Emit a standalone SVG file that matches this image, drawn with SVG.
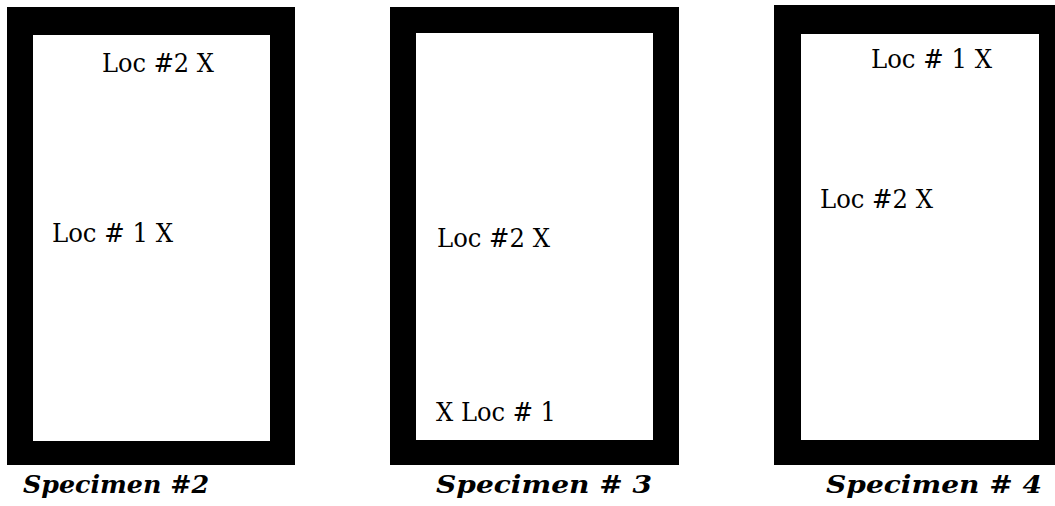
<svg xmlns="http://www.w3.org/2000/svg" width="1055" height="506" viewBox="0 0 1055 506">
<style>
.frame{fill:#000;fill-rule:evenodd}
.loc{font-family:"DejaVu Serif","Liberation Serif",serif;font-size:26px;fill:#000}
.cap{font-family:"DejaVu Serif","Liberation Serif",serif;font-size:25px;font-weight:bold;font-style:italic;fill:#000}
</style>
<rect width="1055" height="506" fill="#fff"/>
<g id="specimen2">
<path class="frame" d="M7,7H295V465H7Z M33,35V441H270V35Z"/>
<text class="loc" x="102" y="72" textLength="112" lengthAdjust="spacingAndGlyphs">Loc #2 X</text>
<text class="loc" x="52" y="242" textLength="121" lengthAdjust="spacingAndGlyphs">Loc # 1 X</text>
<text class="cap" x="23" y="493" textLength="186" lengthAdjust="spacingAndGlyphs">Specimen #2</text>
</g>
<g id="specimen3">
<path class="frame" d="M390,7H679V465H390Z M416,33V440H653V33Z"/>
<text class="loc" x="437" y="247" textLength="113" lengthAdjust="spacingAndGlyphs">Loc #2 X</text>
<text class="loc" x="436" y="421" textLength="120" lengthAdjust="spacingAndGlyphs">X Loc # 1</text>
<text class="cap" x="436" y="493" textLength="216" lengthAdjust="spacingAndGlyphs">Specimen # 3</text>
</g>
<g id="specimen4">
<path class="frame" d="M774,5H1055V465H774Z M801,34V440H1039V34Z"/>
<text class="loc" x="871" y="68" textLength="121" lengthAdjust="spacingAndGlyphs">Loc # 1 X</text>
<text class="loc" x="820" y="208" textLength="113" lengthAdjust="spacingAndGlyphs">Loc #2 X</text>
<text class="cap" x="826" y="493" textLength="216" lengthAdjust="spacingAndGlyphs">Specimen # 4</text>
</g>
<g id="connectors"/>
</svg>
